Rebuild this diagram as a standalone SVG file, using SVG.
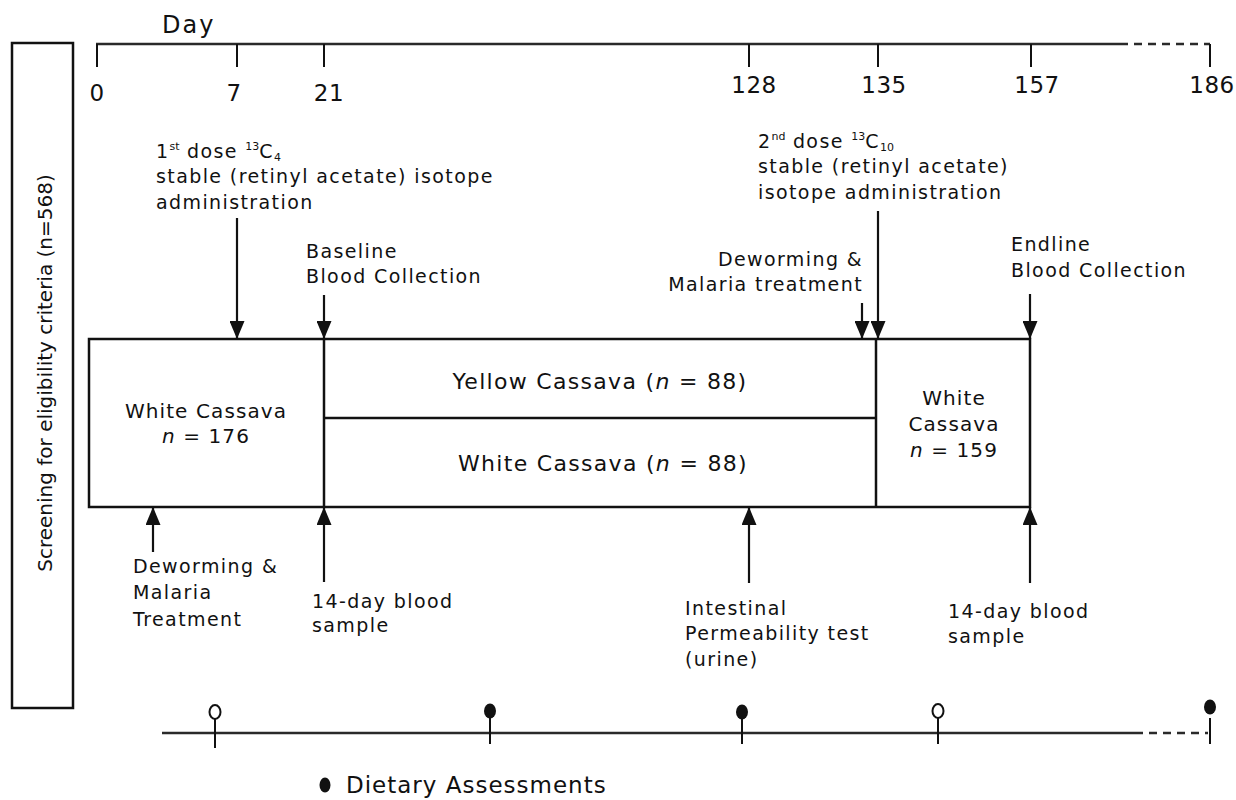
<svg xmlns="http://www.w3.org/2000/svg" width="1236" height="800" viewBox="0 0 1236 800">
<defs>
<style>
text{font-family:"DejaVu Sans",Verdana,sans-serif;fill:#111}
.lab{font-size:19px;letter-spacing:1.4px}
.box{font-size:20px;letter-spacing:1.1px}
.big{font-size:22px;letter-spacing:1.3px}
.num{font-size:23px;letter-spacing:0.5px}
.mid{text-anchor:middle}
.end{text-anchor:end}
.ln{stroke:#111;stroke-width:2.5;fill:none}
.tl{stroke:#2a2a2a;stroke-width:2.5;fill:none}
.tk{stroke:#111;stroke-width:2;fill:none}
.arr{stroke:#111;stroke-width:2.2;fill:none;marker-end:url(#ah)}
.sm{font-size:11px;letter-spacing:0}
</style>
<marker id="ah" viewBox="0 0 18 15" refX="18" refY="7.5" markerWidth="18" markerHeight="15" markerUnits="userSpaceOnUse" orient="auto">
<path d="M0,0 L18,7.5 L0,15 z" fill="#111"/>
</marker>
</defs>
<rect width="1236" height="800" fill="#fff"/>

<g id="screening">
<rect x="12" y="43" width="61" height="665" class="ln" stroke-width="2"/>
<text x="52" y="373" class="mid" font-size="20" transform="rotate(-90 52 373)">Screening for eligibility criteria (n=568)</text>
</g>

<g id="day-axis">
<text x="162" y="33" font-size="24" letter-spacing="2">Day</text>
<line x1="96" y1="44" x2="1120" y2="44" class="tl"/>
<line x1="1120" y1="44" x2="1210" y2="44" class="tl" stroke-dasharray="8 6"/>
<line x1="97" y1="44" x2="97" y2="67" class="tk"/>
<line x1="237" y1="44" x2="237" y2="67" class="tk"/>
<line x1="324" y1="44" x2="324" y2="67" class="tk"/>
<line x1="749" y1="44" x2="749" y2="67" class="tk"/>
<line x1="878" y1="44" x2="878" y2="67" class="tk"/>
<line x1="1031" y1="44" x2="1031" y2="67" class="tk"/>
<line x1="1210" y1="44" x2="1210" y2="67" class="tk"/>
<text x="97" y="101" class="num mid">0</text>
<text x="234" y="101" class="num mid">7</text>
<text x="329" y="101" class="num mid">21</text>
<text x="754" y="93" class="num mid">128</text>
<text x="884" y="93" class="num mid">135</text>
<text x="1037" y="93" class="num mid">157</text>
<text x="1212" y="93" class="num mid">186</text>
</g>

<g id="dose1">
<text x="156" y="158" class="lab">1<tspan class="sm" dy="-8">st</tspan><tspan dy="8"> dose </tspan><tspan class="sm" dy="-8">13</tspan><tspan dy="8">C</tspan><tspan class="sm" dy="3">4</tspan></text>
<text x="156" y="183" class="lab">stable (retinyl acetate) isotope</text>
<text x="156" y="209" class="lab">administration</text>
</g>

<g id="baseline">
<text x="306" y="258" class="lab">Baseline</text>
<text x="306" y="283" class="lab">Blood Collection</text>
</g>

<g id="dose2">
<text x="758" y="148" class="lab">2<tspan class="sm" dy="-8">nd</tspan><tspan dy="8"> dose </tspan><tspan class="sm" dy="-8">13</tspan><tspan dy="8">C</tspan><tspan class="sm" dy="3">10</tspan></text>
<text x="758" y="173" class="lab">stable (retinyl acetate)</text>
<text x="758" y="199" class="lab">isotope administration</text>
</g>

<g id="deworm-top">
<text x="863" y="266" class="lab end">Deworming &amp;</text>
<text x="863" y="291" class="lab end">Malaria treatment</text>
</g>

<g id="endline">
<text x="1011" y="251" class="lab">Endline</text>
<text x="1011" y="277" class="lab">Blood Collection</text>
</g>

<g id="groups">
<rect x="89" y="339" width="941" height="168" class="ln"/>
<line x1="324" y1="339" x2="324" y2="507" class="ln"/>
<line x1="876" y1="339" x2="876" y2="507" class="ln"/>
<line x1="324" y1="418" x2="876" y2="418" class="ln"/>
</g>
<g id="white-176">
<text x="206" y="418" class="box mid">White Cassava</text>
<text x="206" y="443" class="box mid"><tspan font-style="italic">n</tspan> = 176</text>
</g>
<g id="yellow-88">
<text x="600" y="389" class="big mid">Yellow Cassava (<tspan font-style="italic">n</tspan> = 88)</text>
</g>
<g id="white-88">
<text x="603" y="471" class="big mid">White Cassava (<tspan font-style="italic">n</tspan> = 88)</text>
</g>
<g id="white-159">
<text x="954" y="405" class="box mid">White</text>
<text x="954" y="431" class="box mid">Cassava</text>
<text x="954" y="457" class="box mid"><tspan font-style="italic">n</tspan> = 159</text>
</g>

<g id="deworm-bottom">
<text x="133" y="573" class="lab">Deworming &amp;</text>
<text x="133" y="599" class="lab">Malaria</text>
<text x="133" y="626" class="lab">Treatment</text>
</g>
<g id="blood14-a">
<text x="312" y="608" class="lab">14-day blood</text>
<text x="312" y="632" class="lab">sample</text>
</g>
<g id="permeability">
<text x="685" y="615" class="lab">Intestinal</text>
<text x="685" y="640" class="lab">Permeability test</text>
<text x="685" y="666" class="lab">(urine)</text>
</g>
<g id="blood14-b">
<text x="948" y="618" class="lab">14-day blood</text>
<text x="948" y="643" class="lab">sample</text>
</g>

<g id="connectors">
<line x1="237" y1="218" x2="237" y2="339" class="arr"/>
<line x1="324" y1="295" x2="324" y2="339" class="arr"/>
<line x1="862" y1="303" x2="862" y2="339" class="arr"/>
<line x1="878" y1="211" x2="878" y2="339" class="arr"/>
<line x1="1030" y1="294" x2="1030" y2="339" class="arr"/>
<line x1="153" y1="552" x2="153" y2="507" class="arr"/>
<line x1="324" y1="582" x2="324" y2="507" class="arr"/>
<line x1="749" y1="583" x2="749" y2="507" class="arr"/>
<line x1="1030" y1="583" x2="1030" y2="507" class="arr"/>
</g>

<g id="diet-axis">
<line x1="162" y1="733" x2="1135" y2="733" class="tl"/>
<line x1="1135" y1="733" x2="1208" y2="733" class="tl" stroke-dasharray="8 6"/>
<line x1="215" y1="719" x2="215" y2="748" class="tk"/>
<ellipse cx="215" cy="712" rx="5.5" ry="7" fill="#fff" stroke="#111" stroke-width="2"/>
<line x1="490" y1="711" x2="490" y2="744" class="tk"/>
<ellipse cx="490" cy="711" rx="6" ry="7.5" fill="#111"/>
<line x1="742" y1="712" x2="742" y2="744" class="tk"/>
<ellipse cx="742" cy="712" rx="6" ry="7.5" fill="#111"/>
<line x1="938" y1="718" x2="938" y2="744" class="tk"/>
<ellipse cx="938" cy="711" rx="5.5" ry="7" fill="#fff" stroke="#111" stroke-width="2"/>
<line x1="1210" y1="718" x2="1210" y2="744" class="tk"/>
<ellipse cx="1210" cy="707" rx="6" ry="7.5" fill="#111"/>
</g>

<g id="legend">
<ellipse cx="325" cy="785" rx="5.5" ry="7.5" fill="#111"/>
<text x="346" y="793" font-size="23" letter-spacing="1">Dietary Assessments</text>
</g>
</svg>
